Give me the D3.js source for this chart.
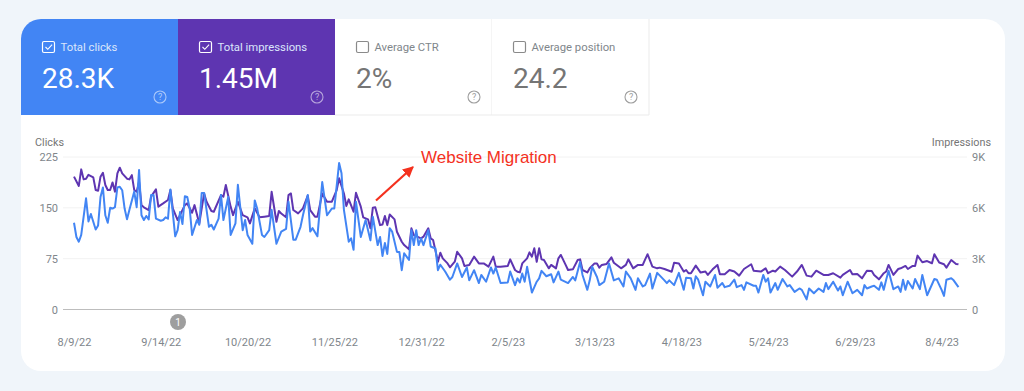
<!DOCTYPE html>
<html>
<head>
<meta charset="utf-8">
<script src="https://cdn.jsdelivr.net/npm/d3@7.9.0/dist/d3.min.js"></script>
<style>
  html, body { margin: 0; padding: 0; background: #f0f5fa; overflow: hidden; }
  svg { display: block; font-family: Roboto, sans-serif; }
  .axis text { fill: #80868b; font-size: 11px; font-family: Roboto, sans-serif; }
  .axis .domain { display: none; }
</style>
</head>
<body>
<div id="chart"></div>
<script>
// Tiles
const tileLabels = ["Total clicks", "Total impressions", "Average CTR", "Average position"];
const tileValues = ["28.3K", "1.45M", "2%", "24.2"];
const tileChecked = [true, true, false, false];
const tileFills = ["#4285f4", "#5e35b1", "#ffffff", "#ffffff"];

// Axis ticks
const clickTicks = [0, 75, 150, 225];
const impressionTicks = [0, 3000, 6000, 9000];
const impressionLabels = ["0", "3K", "6K", "9K"];
const dateLabels = ["8/9/22", "9/14/22", "10/20/22", "11/25/22", "12/31/22", "2/5/23", "3/13/23", "4/18/23", "5/24/23", "6/29/23", "8/4/23"];
const dateTicks = [0, 36, 72, 108, 144, 180, 216, 252, 288, 324, 360];

// Clicks (day = days after 8/9/22)
const clickDays = [
  0,1,2,3,5,6,7,9,10,11,12,13,14,15,16,17,18,19,20,21,22,23,25,26,27,28,29,30,31,32,33,34,36,37,38,39,40,42,43,44,45,46,47,
  48,49,51,52,53,54,56,57,58,60,61,62,64,65,67,68,70,71,72,74,75,76,78,79,81,82,84,86,88,89,91,92,94,95,97,98,99,101,103,105,107,108,110,111,112,114,115,116,117,119,
  121,123,124,126,127,128,129,130,131,132,134,135,136,137,139,140,141,142,143,144,145,147,148,150,151,152,154,156,157,159,161,163,164,166,168,169,171,173,174,175,177,180,181,183,184,
  185,186,187,188,190,192,193,194,196,198,199,201,202,205,207,208,210,211,213,214,215,217,218,220,222,224,226,228,229,231,233,234,236,237,239,240,242,245,246,247,249,251,
  253,254,256,257,258,259,261,262,264,266,267,269,270,272,274,275,277,278,279,282,283,284,286,287,288,289,291,292,294,296,297,299,301,302,304,305,307,309,311,312,313,315,317,318,
  319,321,323,325,327,328,329,331,332,334,335,336,337,338,340,342,343,344,345,346,348,349,351,352,354,357,358,360,361,362,364,365,367
];
const clicks = [
  128,107,100,110,164,130,141,118,124,166,180,139,128,150,149,151,180,181,176,149,133,147,174,151,206,139,132,138,133,169,169,134,131,132,136,134,177,108,117,144,126,167,166,
  149,110,132,125,172,172,122,125,118,134,169,132,166,110,127,184,117,132,110,97,161,149,110,107,117,147,97,115,119,159,103,103,122,139,169,115,120,108,188,139,149,149,216,201,147,100,105,88,159,107,
  132,102,137,95,107,79,98,82,120,115,85,85,58,83,73,117,95,117,95,105,95,117,93,90,58,66,56,44,48,68,48,62,43,58,39,51,41,62,53,62,39,40,56,36,46,
  40,53,41,63,25,41,46,57,49,52,40,56,44,39,48,43,70,51,29,43,63,48,36,41,68,43,46,34,56,46,29,46,34,36,53,31,54,43,39,43,36,54,
  29,47,46,31,49,44,21,41,34,51,32,39,33,35,44,33,36,29,40,35,35,25,51,41,46,25,39,29,45,34,36,26,31,29,15,31,24,31,26,39,30,41,28,34,
  21,41,24,29,21,36,31,34,35,29,40,29,44,57,30,34,26,44,29,42,31,45,30,51,21,45,44,29,20,44,46,43,33
];

// Impressions
const impressionDays = [
  0,2,3,4,5,6,8,9,10,11,12,13,14,15,16,17,18,19,20,22,23,24,25,26,27,28,29,31,32,34,35,37,39,40,41,43,46,47,
  49,50,52,54,55,57,58,61,62,63,65,66,68,70,72,73,75,77,79,81,82,84,85,86,88,89,90,91,93,95,97,98,100,101,103,105,107,109,110,112,113,114,116,117,119,
  120,122,123,124,125,127,128,129,130,131,133,134,136,137,139,140,141,144,145,147,148,149,151,152,153,155,156,158,159,161,162,164,166,168,170,172,174,175,177,180,181,183,184,
  185,186,188,189,190,191,192,193,194,195,197,198,200,201,202,204,205,207,209,210,211,213,214,216,217,218,219,221,223,224,227,229,230,232,234,236,237,238,240,242,243,245,248,249,251,
  253,254,255,256,258,260,262,263,265,267,268,270,272,274,276,278,281,282,285,287,288,290,291,293,295,298,300,302,304,306,308,311,313,315,318,
  319,322,323,325,327,329,331,332,334,336,337,338,340,342,343,345,346,348,349,350,352,354,356,357,359,361,362,364,366,367
];
const impressions = [
  7840,7290,8270,7680,7720,7950,7800,7050,7010,7840,8070,7350,7050,7050,7500,6950,8030,8370,8030,7720,7680,7930,7050,6950,7540,6160,6030,5870,6660,7090,6070,6260,6460,7050,5970,5280,6160,6260,
  5710,6160,5080,6850,6360,5810,5770,6750,6660,7350,6070,5570,6360,5570,5440,5080,5970,5440,5480,5520,6950,5180,5810,5670,5440,6750,6850,5870,5670,5970,6720,5870,5480,5480,6850,6360,6360,7050,7740,6850,6110,6500,5770,6890,6070,
  5440,5320,4790,6010,6030,4980,5020,5520,4980,5610,5320,4590,4000,3800,3550,4790,4390,4200,4300,4790,4200,4100,2820,3350,3020,2720,2490,2820,3410,3020,2570,2620,3120,2720,2720,2530,3120,2530,2530,2570,2960,2330,2230,
  2190,2720,3020,3370,3120,3610,2820,3610,2960,2920,2430,2630,2430,3020,3220,2630,2330,2370,2920,2960,2330,2190,2430,2720,2720,2470,2630,2690,3080,2760,2430,2630,2960,2430,2630,2630,2960,3260,2530,2430,2470,2390,2230,2760,2720,
  2240,2330,2140,2140,2590,2180,2240,2040,2370,2630,2080,2080,2330,2240,2000,2390,2670,2290,2240,2430,2140,2290,2240,2530,2330,1940,2240,2630,2000,1940,2290,2040,2040,2140,1880,
  2040,2330,2080,2100,1840,2290,2270,2040,1780,2140,2240,2630,2040,2390,2430,2570,2390,2570,2570,3180,2790,2860,2730,3260,2770,2670,2470,2920,2690,2670
];

// 1. SVG setup
const width = 1024;
const height = 391;
const svg = d3.select("#chart").append("svg")
    .attr("width", width)
    .attr("height", height);

// 2. Card
const card = { x: 21, y: 19, w: 984, h: 352, r: 20 };
svg.append("clipPath").attr("id", "card-clip")
  .append("rect")
    .attr("x", card.x).attr("y", card.y)
    .attr("width", card.w).attr("height", card.h)
    .attr("rx", card.r);
svg.append("rect")
    .attr("x", card.x).attr("y", card.y)
    .attr("width", card.w).attr("height", card.h)
    .attr("rx", card.r)
    .attr("fill", "#fff");

// 3. Tiles
const tileWidth = 157;
const tileTop = 19;
const tileHeight = 96;
const tiles = svg.append("g").attr("clip-path", "url(#card-clip)")
  .selectAll("g")
  .data(tileLabels)
  .join("g")
    .attr("transform", (d, i) => `translate(${21 + i * tileWidth},${tileTop})`);

tiles.append("rect")
    .attr("width", tileWidth)
    .attr("height", tileHeight)
    .attr("fill", (d, i) => tileFills[i]);

// borders of the unselected tiles
tiles.filter((d, i) => !tileChecked[i]).append("path")
    .attr("d", `M0,${tileHeight}H${tileWidth}V0`)
    .attr("fill", "none")
    .attr("stroke", "#ebebeb");

const tileColor = i => tileChecked[i] ? "#fff" : "#757575";

tiles.append("rect")
    .attr("x", 21.5)
    .attr("y", 22.5)
    .attr("width", 12)
    .attr("height", 11)
    .attr("rx", 1.5)
    .attr("fill", "none")
    .attr("stroke", (d, i) => tileChecked[i] ? "#fff" : "#8a8a8a")
    .attr("stroke-width", 1.2);

tiles.filter((d, i) => tileChecked[i]).append("path")
    .attr("d", "M24.5,28l2.3,2.3l4.3,-4.6")
    .attr("fill", "none")
    .attr("stroke", "#fff")
    .attr("stroke-width", 1.1);

tiles.append("text")
    .attr("x", 39.5)
    .attr("y", 31.5)
    .attr("font-size", 11.3)
    .attr("fill", (d, i) => tileChecked[i] ? "#dbe6fb" : "#80868b")
    .text(d => d);

tiles.append("text")
    .attr("x", 21)
    .attr("y", 68.5)
    .attr("font-size", 28)
    .attr("fill", (d, i) => tileColor(i))
    .text((d, i) => tileValues[i]);

// help icons
const help = tiles.append("g").attr("transform", "translate(139,78)");
help.append("circle")
    .attr("r", 6)
    .attr("fill", "none")
    .attr("stroke", (d, i) => tileChecked[i] ? "rgba(255,255,255,0.55)" : "#9e9e9e")
    .attr("stroke-width", 1.1);
help.append("text")
    .attr("text-anchor", "middle")
    .attr("y", 3.2)
    .attr("font-size", 9)
    .attr("fill", (d, i) => tileChecked[i] ? "rgba(255,255,255,0.6)" : "#9e9e9e")
    .text("?");

// 4. Scales
const startDate = new Date(Date.UTC(2022, 7, 9));
const toDate = day => d3.utcDay.offset(startDate, day);

const xScale = d3.scaleUtc()
    .domain([toDate(0), toDate(360)])
    .range([74, 941.6]);
const yClicks = d3.scaleLinear().domain([0, 225]).range([309.5, 157]);
const yImpressions = d3.scaleLinear().domain([0, 9000]).range([309.5, 157]);

const plotLeft = 63;
const plotRight = 967;

// 5. Axes
const leftAxis = d3.axisLeft(yClicks)
    .tickValues(clickTicks)
    .tickSize(0)
    .tickPadding(5);
svg.append("g")
    .attr("class", "axis")
    .attr("transform", `translate(${plotLeft},0)`)
    .call(leftAxis);

const rightAxis = d3.axisRight(yImpressions)
    .tickValues(impressionTicks)
    .tickFormat((d, i) => impressionLabels[i])
    .tickSize(0)
    .tickPadding(5);
svg.append("g")
    .attr("class", "axis")
    .attr("transform", `translate(${plotRight},0)`)
    .call(rightAxis);

const bottomAxis = d3.axisBottom(xScale)
    .tickValues(dateTicks.map(toDate))
    .tickFormat((d, i) => dateLabels[i])
    .tickSize(0);
svg.append("g")
    .attr("class", "axis")
    .attr("transform", "translate(0,335)")
    .call(bottomAxis);

// gridlines
svg.append("g")
  .selectAll("line")
  .data(clickTicks)
  .join("line")
    .attr("x1", plotLeft)
    .attr("x2", plotRight)
    .attr("y1", d => yClicks(d))
    .attr("y2", d => yClicks(d))
    .attr("stroke", d => d === 0 ? "#bdbdbd" : "#f2f2f2")
    .attr("stroke-width", d => d === 0 ? 1.2 : 1);

// axis titles
svg.append("text")
    .attr("x", 35).attr("y", 146)
    .attr("font-size", 10.8).attr("fill", "#757575")
    .text("Clicks");
svg.append("text")
    .attr("x", 991).attr("y", 146)
    .attr("text-anchor", "end")
    .attr("font-size", 10.8).attr("fill", "#757575")
    .text("Impressions");

// 6. Lines
const clickLine = d3.line()
    .x(d => xScale(toDate(d[0])))
    .y(d => yClicks(d[1]));
const impressionLine = d3.line()
    .x(d => xScale(toDate(d[0])))
    .y(d => yImpressions(d[1]));

svg.append("path")
    .datum(d3.zip(impressionDays, impressions))
    .attr("d", impressionLine)
    .attr("fill", "none")
    .attr("stroke", "#5e35b1")
    .attr("stroke-width", 2)
    .attr("stroke-linejoin", "round");

svg.append("path")
    .datum(d3.zip(clickDays, clicks))
    .attr("d", clickLine)
    .attr("fill", "none")
    .attr("stroke", "#4285f4")
    .attr("stroke-width", 2)
    .attr("stroke-linejoin", "round");

// 7. Annotation marker on the date axis
const marker = svg.append("g").attr("transform", "translate(178,322)");
marker.append("circle").attr("r", 8).attr("fill", "#9e9e9e");
marker.append("text")
    .attr("text-anchor", "middle")
    .attr("y", 3.5)
    .attr("font-size", 10)
    .attr("fill", "#fff")
    .text("1");

// 8. Website Migration note
const noteRed = "#f4311e";
svg.append("defs").append("marker")
    .attr("id", "arrow")
    .attr("viewBox", "0 0 10 10")
    .attr("refX", 9)
    .attr("refY", 5)
    .attr("markerWidth", 5)
    .attr("markerHeight", 5)
    .attr("orient", "auto")
  .append("path")
    .attr("d", "M0,0L10,5L0,10z")
    .attr("fill", noteRed);
svg.append("line")
    .attr("x1", 376).attr("y1", 200.5)
    .attr("x2", 413).attr("y2", 167)
    .attr("stroke", noteRed)
    .attr("stroke-width", 2.2)
    .attr("marker-end", "url(#arrow)");
svg.append("text")
    .attr("x", 421).attr("y", 163)
    .attr("font-family", "'Liberation Sans', Arial, sans-serif")
    .attr("font-size", 17)
    .attr("fill", noteRed)
    .text("Website Migration");
</script>
</body>
</html>
